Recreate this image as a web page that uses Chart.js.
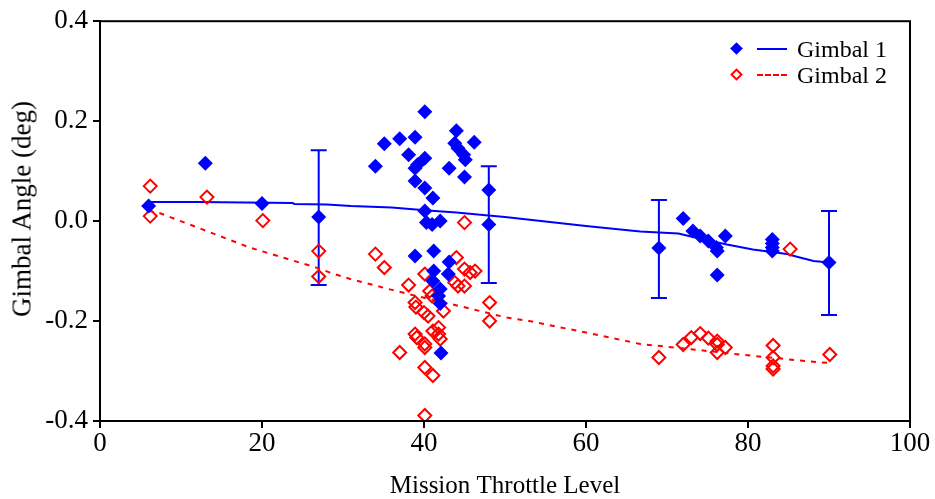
<!DOCTYPE html>
<html>
<head>
<meta charset="utf-8">
<script src="https://cdn.jsdelivr.net/npm/chart.js@4.4.1/dist/chart.umd.min.js"></script>
<style>
  html, body { margin: 0; padding: 0; background: #fff; }
  #wrap { position: relative; width: 935px; height: 499px; }
  #c { display: block; }
  .lg { position: absolute; font-family: "Liberation Serif", "Times New Roman", serif; font-size: 24px; line-height: 24px; color: #000; white-space: nowrap; }
  .dia { position: absolute; width: 9px; height: 9px; transform: rotate(45deg); box-sizing: border-box; }
  .ln { position: absolute; height: 0; width: 30px; }
  #ytitle { position: absolute; left: 22px; top: 209px; transform: translate(-50%, -50%) rotate(-90deg);
            font-family: "Liberation Serif", "Times New Roman", serif; font-size: 27px; line-height: 27px; white-space: nowrap; color: #000; }
</style>
</head>
<body>
<div id="wrap">
  <canvas id="c" width="935" height="499"></canvas>
  <div id="ytitle"></div>
  <div class="dia" style="left:732px;top:44px;background:#0000ff;"></div>
  <div class="ln" style="left:757px;top:48px;border-top:2px solid #0000ff;"></div>
  <div class="lg" style="left:797px;top:37px;">Gimbal 1</div>
  <div class="dia" style="left:732px;top:70px;border:2px solid #ff0000;"></div>
  <div class="ln" style="left:757px;top:74px;border-top:2px dashed #ff0000;"></div>
  <div class="lg" style="left:797px;top:63px;">Gimbal 2</div>
</div>
<script>
// ---- data ----
const g1X = [6, 13, 20, 27, 34, 35.1, 37, 38.9, 38.1, 38.9, 39.2, 40.1, 40.1, 38.9, 40.1, 41.1, 40.1, 40.3, 41, 42,
             38.9, 41.2, 43.1, 41.2, 43, 41.1, 42, 41.8, 42, 42.1, 44, 43.8, 44.2, 44.9, 45.1, 46.2, 43.1, 45, 48, 48,
             69, 72, 73.2, 74.1, 75.1, 76.1, 76.2, 77.2, 76.2, 83, 83, 83, 83, 90];
const g1Y = [0.030, 0.116, 0.035, 0.008, 0.110, 0.155, 0.165, 0.168, 0.133, 0.106, 0.113, 0.126, 0.219, 0.080, 0.066, 0.046, 0.020, -0.003, -0.007, 0.000,
             -0.070, -0.060, -0.082, -0.100, -0.106, -0.120, -0.136, -0.150, -0.165, -0.264, 0.181, 0.156, 0.146, 0.133, 0.123, 0.158, 0.106, 0.088, 0.062, -0.007,
             -0.054, 0.005, -0.020, -0.030, -0.040, -0.053, -0.060, -0.030, -0.108, -0.037, -0.045, -0.053, -0.060, -0.083];

const g2X = [6.2, 6.2, 13.2, 20.1, 27, 27, 34, 35.1, 38.1, 38.9, 39, 40, 40.1, 41, 40.7, 40.5, 37, 38.9, 39.1, 40.1,
             40.1, 41.1, 41.8, 41.8, 42, 40.1, 41.1, 40.1, 42.4, 44, 43.8, 44.2, 45, 45, 45.7, 46.3, 45, 48.1, 48.1,
             69, 72, 73, 74.1, 75.1, 76.2, 76.2, 76.2, 77.2, 83.1, 83.1, 83.1, 83.1, 85.2, 90.1];
const g2Y = [0.070, 0.010, 0.048, 0.001, -0.060, -0.111, -0.066, -0.093, -0.128, -0.163, -0.172, -0.183, -0.106, -0.150, -0.140, -0.190, -0.263, -0.226, -0.233, -0.246,
             -0.253, -0.220, -0.213, -0.226, -0.236, -0.293, -0.309, -0.389, -0.180, -0.073, -0.123, -0.130, -0.130, -0.096, -0.103, -0.100, -0.003, -0.163, -0.200,
             -0.273, -0.247, -0.233, -0.225, -0.234, -0.240, -0.247, -0.263, -0.253, -0.249, -0.273, -0.290, -0.296, -0.056, -0.267];

const fit1X = [6, 12, 18, 23.8, 24, 28, 31, 36, 40.5, 44, 47.3, 50, 55, 60, 66.7, 71.4, 74, 77.4, 80.6, 84.8, 86.4, 88.1, 90];
const fit1Y = [0.038, 0.038, 0.037, 0.036, 0.034, 0.033, 0.030, 0.027, 0.021, 0.017, 0.012, 0.008, -0.001, -0.010, -0.021, -0.025, -0.035, -0.047, -0.057, -0.066, -0.073, -0.080, -0.083];

const fit2X = [6, 7.2, 13.2, 18.5, 23, 26.7, 28.4, 30.9, 36.6, 39.9, 44.9, 50.2, 53, 60, 66.7, 72.8, 79, 86.4, 90];
const fit2Y = [0.020, 0.017, -0.020, -0.053, -0.075, -0.093, -0.103, -0.116, -0.140, -0.153, -0.172, -0.193, -0.200, -0.223, -0.246, -0.256, -0.267, -0.279, -0.284];

const errX  = [27, 48, 69, 90];
const errLo = [-0.128, -0.124, -0.154, -0.188];
const errHi = [0.142, 0.110, 0.042, 0.020];

const xTicks = [0, 20, 40, 60, 80, 100];
const yTicks = [-0.4, -0.2, 0.0, 0.2, 0.4];

const xTitle = "Mission Throttle Level";
const yTitle = "Gimbal Angle (deg)";

document.getElementById('ytitle').textContent = yTitle;

// ---- build ----
const zip = (xs, ys) => xs.map((x, i) => ({ x: x, y: ys[i] }));
const FONT = '"Liberation Serif", "Times New Roman", serif';

const errorBars = {
  id: 'errorBars',
  beforeDatasetsDraw(chart) {
    const { ctx, scales: { x, y } } = chart;
    ctx.save();
    ctx.strokeStyle = '#0000ff';
    ctx.lineWidth = 2;
    errX.forEach((v, i) => {
      const px = x.getPixelForValue(v);
      const pLo = y.getPixelForValue(errLo[i]);
      const pHi = y.getPixelForValue(errHi[i]);
      ctx.beginPath();
      ctx.moveTo(px, pLo); ctx.lineTo(px, pHi);
      ctx.moveTo(px - 8, pLo); ctx.lineTo(px + 8, pLo);
      ctx.moveTo(px - 8, pHi); ctx.lineTo(px + 8, pHi);
      ctx.stroke();
    });
    ctx.restore();
  }
};

const frame = {
  id: 'frame',
  afterDraw(chart) {
    const { ctx, chartArea: a } = chart;
    ctx.save();
    ctx.strokeStyle = '#000';
    ctx.lineWidth = 2;
    ctx.strokeRect(a.left, a.top, a.right - a.left, a.bottom - a.top);
    ctx.restore();
  }
};

new Chart(document.getElementById('c'), {
  type: 'scatter',
  data: {
    datasets: [
      { label: 'Gimbal 1', data: zip(g1X, g1Y), pointStyle: 'rectRot', pointRadius: 7.5,
        backgroundColor: '#0000ff', borderColor: '#0000ff', borderWidth: 0, order: 1 },
      { label: 'Gimbal 2', data: zip(g2X, g2Y), pointStyle: 'rectRot', pointRadius: 6.5,
        backgroundColor: 'rgba(0,0,0,0)', borderColor: '#ff0000', borderWidth: 2, order: 2 },
      { type: 'line', label: 'fit1', data: zip(fit1X, fit1Y), borderColor: '#0000ff', borderWidth: 2,
        pointRadius: 0, fill: false, tension: 0, order: 3 },
      { type: 'line', label: 'fit2', data: zip(fit2X, fit2Y), borderColor: '#ff0000', borderWidth: 2,
        borderDash: [5, 6], pointRadius: 0, fill: false, tension: 0, order: 4 }
    ]
  },
  options: {
    responsive: false,
    animation: false,
    events: [],
    layout: { padding: { left: 0, right: 25, top: 20, bottom: 0 } },
    plugins: { legend: { display: false }, tooltip: { enabled: false } },
    scales: {
      x: {
        type: 'linear', min: 0, max: 100,
        afterBuildTicks: s => { s.ticks = xTicks.map(v => ({ value: v })); },
        afterFit: s => { s.height = 78; },
        grid: { drawOnChartArea: false, drawTicks: true, tickLength: 7, color: '#000', lineWidth: 2 },
        border: { display: true, color: '#000', width: 2 },
        ticks: { color: '#000', font: { family: FONT, size: 27 }, padding: 0, maxRotation: 0,
                 callback: v => String(v) },
        title: { display: true, text: xTitle, color: '#000', font: { family: FONT, size: 25, lineHeight: 1.0 }, padding: { top: 0, bottom: 0 } }
      },
      y: {
        type: 'linear', min: -0.4, max: 0.4,
        afterBuildTicks: s => { s.ticks = yTicks.map(v => ({ value: v })); },
        afterFit: s => { s.width = 100; },
        grid: { drawOnChartArea: false, drawTicks: true, tickLength: 7, color: '#000', lineWidth: 2 },
        border: { display: true, color: '#000', width: 2 },
        ticks: { color: '#000', font: { family: FONT, size: 27 }, padding: 5,
                 callback: v => (Math.abs(v) < 1e-9 ? 0 : v).toFixed(1) },
        title: { display: false }
      }
    }
  },
  plugins: [errorBars, frame]
});
</script>
</body>
</html>
